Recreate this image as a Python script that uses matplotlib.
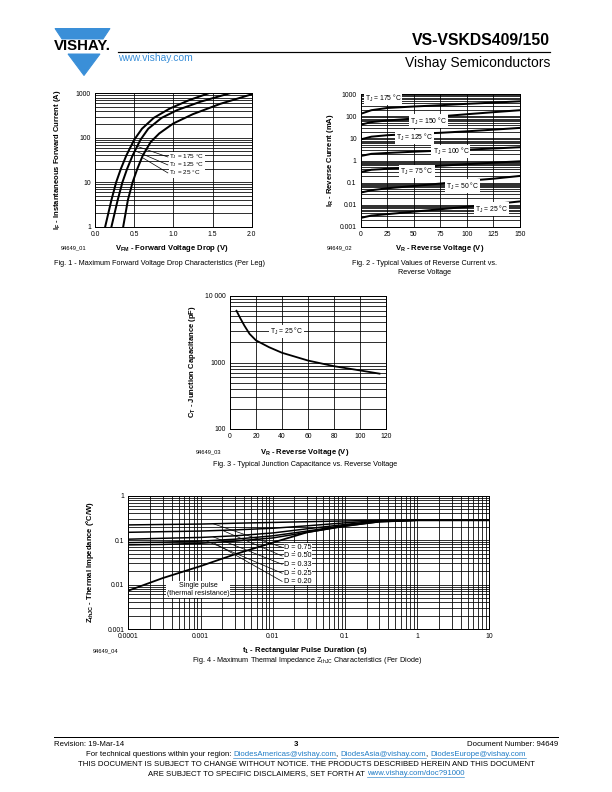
import numpy as np
import matplotlib
matplotlib.use("Agg")
import matplotlib.pyplot as plt
from matplotlib.lines import Line2D
from matplotlib.patches import Polygon
from matplotlib.ticker import LogLocator, NullFormatter, MultipleLocator

plt.rcParams['font.family'] = ['Liberation Sans', 'DejaVu Sans']
plt.rcParams['mathtext.fontset'] = 'custom'
plt.rcParams['mathtext.rm'] = 'Liberation Sans'
plt.rcParams['mathtext.bf'] = 'Liberation Sans:bold'
plt.rcParams['mathtext.default'] = 'regular'

W, H = 612, 792
BLUE = '#3a8fd8'
LINK = '#1f7cc6'

# ---------------- data ----------------
# Fig. 1 - forward voltage drop (V) vs forward current (A)
fwd_temps = ['175', '125', '25']
fwd_v = [
    [0.13, 0.17, 0.21, 0.27, 0.33, 0.40, 0.50, 0.60, 0.75, 0.95, 1.20, 1.45],
    [0.21, 0.25, 0.29, 0.35, 0.41, 0.48, 0.58, 0.68, 0.85, 1.05, 1.35, 1.72],
    [0.36, 0.39, 0.42, 0.48, 0.54, 0.61, 0.71, 0.82, 1.00, 1.25, 1.60, 2.00],
]
fwd_i = [
    [1, 2, 4, 10, 20, 40, 90, 160, 280, 450, 700, 1000],
    [1, 2, 4, 10, 20, 40, 90, 160, 280, 420, 650, 1000],
    [1, 2, 4, 10, 20, 40, 80, 125, 210, 340, 580, 950],
]
fwd_xticks = [0.0, 0.5, 1.0, 1.5, 2.0]
fwd_yticks = [1, 10, 100, 1000]

# Fig. 2 - reverse current (mA) vs reverse voltage (V)
rev_temps = ['175', '150', '125', '100', '75', '50', '25']
rev_v = [0, 10, 25, 50, 75, 100, 125, 150]
rev_i = [
    [130, 190, 240, 280, 320, 370, 420, 480],
    [42, 55, 65, 80, 100, 125, 155, 190],
    [9, 12, 14, 16, 18, 21, 25, 30],
    [1.6, 2.0, 2.2, 2.5, 2.8, 3.1, 3.5, 4.0],
    [0.30, 0.38, 0.42, 0.50, 0.58, 0.68, 0.80, 0.92],
    [0.035, 0.045, 0.055, 0.07, 0.09, 0.12, 0.15, 0.20],
    [0.0025, 0.0032, 0.0037, 0.0048, 0.0062, 0.008, 0.0105, 0.014],
]
rev_label_x = [21, 64, 51, 85, 53, 96, 123]
rev_label_y = [660, 62, 11.7, 2.5, 0.33, 0.07, 0.0063]
rev_xticks = [0, 25, 50, 75, 100, 125, 150]
rev_yticks = [0.001, 0.01, 0.1, 1, 10, 100, 1000]
rev_yticklabels = ['0.001', '0.01', '0.1', '1', '10', '100', '1000']

# Fig. 3 - junction capacitance (pF) vs reverse voltage (V)
cap_v = [5, 8, 11, 15, 20, 30, 40, 60, 80, 100, 115]
cap_c = [6000, 4600, 3600, 2700, 2150, 1700, 1400, 1070, 880, 760, 680]
cap_xticks = [0, 20, 40, 60, 80, 100, 120]
cap_yticks = [100, 1000, 10000]
cap_yticklabels = ['100', '1000', '10 000']

# Fig. 4 - thermal impedance (°C/W) vs pulse duration (s)
zth_t = [1e-4, 3e-4, 1e-3, 3e-3, 1e-2, 3e-2, 0.1, 0.3, 1, 10]
zth_single = [0.0073, 0.014, 0.026, 0.048, 0.088, 0.15, 0.21, 0.26, 0.28, 0.28]
zth_duty = ['0.75', '0.50', '0.33', '0.25', '0.20']
zth_d = [
    [0.22, 0.225, 0.23, 0.24, 0.25, 0.26, 0.27, 0.28, 0.28, 0.28],
    [0.15, 0.155, 0.16, 0.17, 0.185, 0.21, 0.245, 0.275, 0.28, 0.28],
    [0.105, 0.11, 0.115, 0.125, 0.145, 0.18, 0.225, 0.27, 0.28, 0.28],
    [0.088, 0.09, 0.095, 0.105, 0.125, 0.16, 0.215, 0.265, 0.28, 0.28],
    [0.078, 0.08, 0.085, 0.095, 0.112, 0.15, 0.205, 0.26, 0.28, 0.28],
]
zth_leader_t = [1.5e-3, 2e-3, 1.5e-3, 1.2e-3, 1.5e-3]
zth_label_y = [0.069, 0.044, 0.0286, 0.018, 0.0118]
zth_xticks = [1e-4, 1e-3, 1e-2, 0.1, 1, 10]
zth_xticklabels = ['0.0001', '0.001', '0.01', '0.1', '1', '10']
zth_yticks = [0.001, 0.01, 0.1, 1]
zth_yticklabels = ['0.001', '0.01', '0.1', '1']

fig = plt.figure(figsize=(W / 72, H / 72), dpi=72)


def page_axes(l, t, r, b):
    return fig.add_axes([l / W, 1 - b / H, (r - l) / W, (b - t) / H])


def ftext(x, y, s, **kw):
    kw.setdefault('va', 'center')
    return fig.text(x / W, 1 - y / H, s, **kw)


def style(ax):
    for sp in ax.spines.values():
        sp.set_linewidth(1.0)
        sp.set_color('black')
    ax.tick_params(which='both', length=0, labelsize=6.7, pad=4)
    ax.set_axisbelow(True)


def log_y(ax):
    ax.set_yscale('log')
    ax.yaxis.set_minor_locator(LogLocator(subs=np.arange(2, 10)))
    ax.yaxis.set_minor_formatter(NullFormatter())
    ax.grid(True, which='both', axis='y', color='black', lw=0.8)


tj = r'T$_J$ = %s °C'
LAB = 7.6   # axis label size
CAP = 7.2   # caption size
NOTE = 6.8  # in-chart labels


def wbox(pad):
    return dict(facecolor='white', edgecolor='none', pad=pad)


# ---------------- header ----------------
fig.add_artist(Polygon([[55 / W, 1 - 28.5 / H], [110 / W, 1 - 28.5 / H],
                        [103 / W, 1 - 39 / H], [62 / W, 1 - 39 / H]],
                       closed=True, transform=fig.transFigure, color=BLUE))
fig.add_artist(Polygon([[68 / W, 1 - 54 / H], [100 / W, 1 - 54 / H],
                        [84 / W, 1 - 75.5 / H]],
                       closed=True, transform=fig.transFigure, color=BLUE))
ftext(82, 46.5, 'VISHAY.', fontsize=15, fontweight='bold', ha='center')
fig.add_artist(Line2D([118 / W, 550 / W], [1 - 51.7 / H, 1 - 51.7 / H],
                      color='black', lw=1.2))
ftext(550, 40.5, 'VS-VSKDS409/150', fontsize=15.8, fontweight='bold', ha='right')
ftext(550, 62.5, 'Vishay Semiconductors', fontsize=13.9, ha='right')
ftext(118, 58.3, 'www.vishay.com', fontsize=10.2, color=BLUE, ha='left')

# ---------------- Fig. 1 ----------------
ax1 = page_axes(95, 93.3, 251.7, 226.7)
style(ax1)
log_y(ax1)
ax1.xaxis.set_major_locator(MultipleLocator(0.5))
ax1.grid(True, which='major', axis='x', color='black', lw=0.8)
for v, i in zip(fwd_v, fwd_i):
    ax1.plot(v, i, color='black', lw=2.0)
ax1.set_xlim(0, 2.0)
ax1.set_ylim(1, 1000)
ax1.set_xticks(fwd_xticks, labels=['%.1f' % x for x in fwd_xticks])
ax1.set_yticks(fwd_yticks, labels=[str(y) for y in fwd_yticks])
fwd_leader_v = [0.47, 0.51, 0.60]
fwd_label_i = [37, 24.5, 16.2]
for k, temp in enumerate(fwd_temps):
    i0 = 10 ** np.interp(fwd_leader_v[k], fwd_v[k], np.log10(fwd_i[k]))
    ax1.plot([fwd_leader_v[k], 0.93], [i0, fwd_label_i[k]], color='black', lw=0.7)
    ax1.text(0.95, fwd_label_i[k], tj % temp, fontsize=6.4, va='center',
             ha='left', bbox=wbox(0.5))
ftext(58, 160, r'$\mathbf{I_F}$ - Instantaneous Forward Current (A)',
      fontsize=LAB, fontweight='bold', rotation=90, ha='center')
ftext(172, 248.3, r'$\mathbf{V_{FM}}$ - Forward Voltage Drop (V)',
      fontsize=LAB, fontweight='bold', ha='center')
ftext(61, 248.3, '94649_01', fontsize=5.7, ha='left')
ftext(160, 263.5, 'Fig. 1 - Maximum Forward Voltage Drop Characteristics (Per Leg)',
      fontsize=CAP, ha='center')

# ---------------- Fig. 2 ----------------
ax2 = page_axes(360.7, 94.3, 520, 226.7)
style(ax2)
log_y(ax2)
ax2.xaxis.set_major_locator(MultipleLocator(25))
ax2.grid(True, which='major', axis='x', color='black', lw=0.8)
for i in rev_i:
    ax2.plot(rev_v, i, color='black', lw=2.0)
ax2.set_xlim(0, 150)
ax2.set_ylim(0.001, 1000)
ax2.set_xticks(rev_xticks, labels=[str(x) for x in rev_xticks])
ax2.set_yticks(rev_yticks, labels=rev_yticklabels)
for k, temp in enumerate(rev_temps):
    ax2.text(rev_label_x[k], rev_label_y[k], tj % temp, fontsize=NOTE,
             va='center', ha='center', bbox=wbox(1.0))
ftext(330, 160, r'$\mathbf{I_R}$ - Reverse Current (mA)',
      fontsize=LAB, fontweight='bold', rotation=90, ha='center')
ftext(440, 248.3, r'$\mathbf{V_R}$ - Reverse Voltage (V)',
      fontsize=LAB, fontweight='bold', ha='center')
ftext(327, 248.3, '94649_02', fontsize=5.7, ha='left')
ftext(425, 263.5, 'Fig. 2 - Typical Values of Reverse Current vs.', fontsize=CAP, ha='center')
ftext(425, 272.3, 'Reverse Voltage', fontsize=CAP, ha='center')

# ---------------- Fig. 3 ----------------
ax3 = page_axes(230, 296, 386, 429)
style(ax3)
log_y(ax3)
ax3.xaxis.set_major_locator(MultipleLocator(20))
ax3.grid(True, which='major', axis='x', color='black', lw=0.8)
ax3.plot(cap_v, cap_c, color='black', lw=1.8)
ax3.set_xlim(0, 120)
ax3.set_ylim(100, 10000)
ax3.set_xticks(cap_xticks, labels=[str(x) for x in cap_xticks])
ax3.set_yticks(cap_yticks, labels=cap_yticklabels)
ax3.text(43.5, 2950, tj % '25', fontsize=NOTE, va='center', ha='center',
         bbox=wbox(1.0))
ftext(193, 362, r'$\mathbf{C_T}$ - Junction Capacitance (pF)',
      fontsize=LAB, fontweight='bold', rotation=90, ha='center')
ftext(305, 452, r'$\mathbf{V_R}$ - Reverse Voltage (V)',
      fontsize=LAB, fontweight='bold', ha='center')
ftext(196, 452, '94649_03', fontsize=5.7, ha='left')
ftext(305, 464, 'Fig. 3 - Typical Junction Capacitance vs. Reverse Voltage',
      fontsize=CAP, ha='center')

# ---------------- Fig. 4 ----------------
ax4 = page_axes(128.3, 495.7, 489.3, 629)
style(ax4)
log_y(ax4)
ax4.set_xscale('log')
ax4.xaxis.set_minor_locator(LogLocator(subs=np.arange(2, 10)))
ax4.xaxis.set_minor_formatter(NullFormatter())
ax4.grid(True, which='both', axis='x', color='black', lw=0.8)
ax4.plot(zth_t, zth_single, color='black', lw=1.8)
for d in zth_d:
    ax4.plot(zth_t, d, color='black', lw=1.5)
ax4.set_xlim(1e-4, 10)
ax4.set_ylim(0.001, 1)
ax4.set_xticks(zth_xticks, labels=zth_xticklabels)
ax4.set_yticks(zth_yticks, labels=zth_yticklabels)
for k, d in enumerate(zth_duty):
    t0 = zth_leader_t[k]
    z0 = 10 ** np.interp(np.log10(t0), np.log10(zth_t), np.log10(zth_d[k]))
    ax4.plot([t0, 0.0135], [z0, zth_label_y[k]], color='black', lw=0.7)
    ax4.text(0.0145, zth_label_y[k], 'D = ' + d, fontsize=7.3, va='center',
             ha='left', bbox=wbox(0.6))
ax4.text(9.2e-4, 0.0078, 'Single pulse\n(thermal resistance)', fontsize=7.0,
         va='center', ha='center', linespacing=1.15, bbox=wbox(1.0))
ftext(90, 562, r'$\mathbf{Z_{thJC}}$ - Thermal Impedance (°C/W)',
      fontsize=LAB, fontweight='bold', rotation=90, ha='center')
ftext(305, 651, r'$\mathbf{t_1}$ - Rectangular Pulse Duration (s)',
      fontsize=LAB, fontweight='bold', ha='center')
ftext(93, 651, '94649_04', fontsize=5.7, ha='left')
ftext(307, 661, r'Fig. 4 - Maximum Thermal Impedance Z$_{thJC}$ Characteristics (Per Diode)',
      fontsize=CAP, ha='center')

# ---------------- footer ----------------
fig.add_artist(Line2D([54 / W, 558 / W], [1 - 737.3 / H, 1 - 737.3 / H],
                      color='black', lw=1.0))
FOOT = 7.8
ftext(54, 744, 'Revision: 19-Mar-14', fontsize=FOOT, ha='left')
ftext(296, 744.5, '3', fontsize=FOOT, fontweight='bold', ha='center')
ftext(558, 744, 'Document Number: 94649', fontsize=FOOT, ha='right')

renderer = fig.canvas.get_renderer()


def line_of_parts(y, parts, size, cx):
    texts = []
    for s, is_link in parts:
        t = ftext(0, y, s, fontsize=size, ha='left',
                  color=LINK if is_link else 'black')
        texts.append(t)
    widths = [t.get_window_extent(renderer).width for t in texts]
    x = cx - sum(widths) / 2
    for t, w, (s, is_link) in zip(texts, widths, parts):
        t.set_x(x / W)
        if is_link:
            uy = 1 - (y + size * 0.42) / H
            fig.add_artist(Line2D([x / W, (x + w) / W], [uy, uy], color=LINK, lw=0.6))
        x += w


line_of_parts(754.3, [('For technical questions within your region: ', False),
                      ('DiodesAmericas@vishay.com', True), (', ', False),
                      ('DiodesAsia@vishay.com', True), (', ', False),
                      ('DiodesEurope@vishay.com', True)], FOOT, 306)
ftext(306, 765, 'THIS DOCUMENT IS SUBJECT TO CHANGE WITHOUT NOTICE. THE PRODUCTS '
      'DESCRIBED HEREIN AND THIS DOCUMENT', fontsize=FOOT, ha='center')
line_of_parts(773.3, [('ARE SUBJECT TO SPECIFIC DISCLAIMERS, SET FORTH AT ', False),
                      ('www.vishay.com/doc?91000', True)], FOOT, 306)

fig.savefig('out.png', dpi=72)
